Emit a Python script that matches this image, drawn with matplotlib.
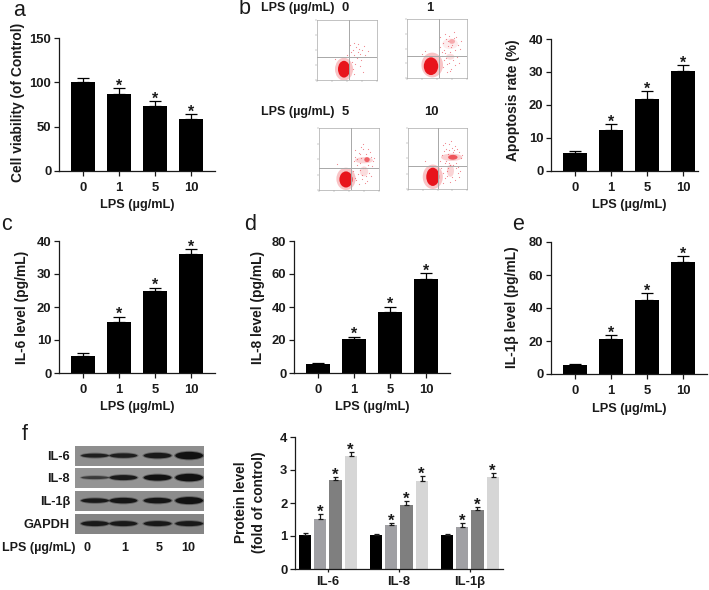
import matplotlib
matplotlib.use('Agg')
import matplotlib.pyplot as plt
from matplotlib.patches import Ellipse

W, H = 709, 590
plt.rcParams['font.family'] = ['Liberation Sans', 'DejaVu Sans']
plt.rcParams['font.weight'] = 'bold'
plt.rcParams['axes.unicode_minus'] = False

doses = ['0', '1', '5', '10']

viability = [101, 87, 73.7, 58.6]
viability_err = [4.4, 6.3, 5.3, 5.4]
apoptosis = [5.3, 12.25, 21.9, 30.3]
apoptosis_err = [0.8, 1.85, 2.3, 1.8]
il6 = [5.2, 15.5, 24.7, 36]
il6_err = [0.9, 1.6, 1.2, 1.6]
il8 = [5.3, 20.6, 37.2, 57]
il8_err = [1.0, 1.4, 3.0, 3.6]
il1b = [5.3, 21.3, 45, 68]
il1b_err = [0.8, 2.4, 3.8, 3.5]

protein_groups = ['IL-6', 'IL-8', 'IL-1β']
protein_0 = [1.03, 1.02, 1.03]
protein_1 = [1.52, 1.33, 1.28]
protein_5 = [2.71, 1.95, 1.80]
protein_10 = [3.43, 2.68, 2.80]
protein_0_err = [0.06, 0.05, 0.03]
protein_1_err = [0.15, 0.06, 0.11]
protein_5_err = [0.08, 0.10, 0.08]
protein_10_err = [0.11, 0.13, 0.10]
protein_stars = [False, True, True, True]
protein_colors = ['#000000', '#a0a0a4', '#7f7f7f', '#d6d6d6']

# western blot: band thickness (px) per lane, band darkness
blot_rows = ['IL-6', 'IL-8', 'IL-1β', 'GAPDH']
blot_thick = [[4, 4.5, 5.5, 7.5], [3, 5, 6, 7.5], [4.5, 5.5, 5.5, 7], [5, 5, 5, 5]]
blot_alpha = [[0.85, 0.85, 0.9, 1], [0.6, 0.9, 1, 1], [0.9, 0.95, 0.95, 1], [0.9, 0.9, 0.9, 0.9]]
blot_bg = ['#8e8e8e', '#949494', '#8c8c8c', '#858585']
blot_lanes = [0.155, 0.375, 0.64, 0.885]

# flow cytometry: blobs as (x, y, width, height, alpha) in plot fractions
flow_labels = ['0', '1', '5', '10']
flow_blobs = [
    [(0.45, 0.18, 0.20, 0.28, 1), (0.45, 0.18, 0.30, 0.38, 0.25)],
    [(0.40, 0.20, 0.24, 0.30, 1), (0.42, 0.22, 0.36, 0.42, 0.25), (0.72, 0.36, 0.14, 0.10, 0.15),
     (0.72, 0.58, 0.26, 0.18, 0.08), (0.75, 0.62, 0.10, 0.08, 0.3)],
    [(0.45, 0.17, 0.22, 0.26, 1), (0.45, 0.18, 0.32, 0.36, 0.25), (0.75, 0.30, 0.14, 0.16, 0.15),
     (0.75, 0.48, 0.30, 0.10, 0.18), (0.80, 0.49, 0.09, 0.08, 0.6)],
    [(0.42, 0.20, 0.22, 0.30, 1), (0.42, 0.20, 0.34, 0.40, 0.25), (0.72, 0.30, 0.12, 0.20, 0.18),
     (0.74, 0.52, 0.36, 0.12, 0.2), (0.76, 0.52, 0.16, 0.08, 0.65)],
]
# scattered events, read by eye
flow_dots_x = [
    [0.50, 0.56, 0.60, 0.62, 0.65, 0.68, 0.70, 0.72, 0.75, 0.78, 0.58, 0.63, 0.67, 0.74, 0.80, 0.55, 0.61, 0.69, 0.85, 0.60, 0.72, 0.30, 0.62, 0.77],
    [0.55, 0.60, 0.62, 0.65, 0.68, 0.70, 0.72, 0.78, 0.80, 0.82, 0.85, 0.62, 0.66, 0.74, 0.88, 0.58, 0.64, 0.70, 0.76, 0.84, 0.67, 0.60, 0.73, 0.80, 0.90, 0.55, 0.63, 0.69, 0.78, 0.30, 0.25, 0.86, 0.71, 0.65, 0.58, 0.75],
    [0.58, 0.60, 0.63, 0.66, 0.68, 0.70, 0.72, 0.74, 0.78, 0.82, 0.86, 0.90, 0.62, 0.65, 0.68, 0.76, 0.84, 0.88, 0.60, 0.70, 0.73, 0.78, 0.85, 0.92, 0.64, 0.71, 0.80, 0.87, 0.57, 0.69, 0.74, 0.82, 0.30, 0.66, 0.77, 0.60],
    [0.55, 0.58, 0.62, 0.64, 0.66, 0.68, 0.70, 0.72, 0.74, 0.78, 0.82, 0.86, 0.90, 0.60, 0.63, 0.67, 0.75, 0.80, 0.85, 0.59, 0.65, 0.71, 0.77, 0.84, 0.92, 0.61, 0.69, 0.79, 0.87, 0.56, 0.73, 0.81, 0.28, 0.66, 0.76, 0.60, 0.70, 0.88, 0.63, 0.83],
]
flow_dots_y = [
    [0.42, 0.46, 0.50, 0.42, 0.55, 0.47, 0.52, 0.44, 0.50, 0.56, 0.30, 0.26, 0.36, 0.34, 0.42, 0.58, 0.62, 0.60, 0.48, 0.18, 0.24, 0.35, 0.10, 0.14],
    [0.52, 0.60, 0.48, 0.66, 0.55, 0.72, 0.44, 0.68, 0.48, 0.70, 0.56, 0.30, 0.24, 0.16, 0.50, 0.38, 0.42, 0.26, 0.30, 0.36, 0.10, 0.18, 0.52, 0.22, 0.62, 0.70, 0.74, 0.62, 0.78, 0.45, 0.40, 0.26, 0.12, 0.34, 0.44, 0.56],
    [0.46, 0.54, 0.40, 0.60, 0.32, 0.52, 0.24, 0.66, 0.58, 0.40, 0.54, 0.46, 0.16, 0.26, 0.44, 0.12, 0.28, 0.38, 0.64, 0.70, 0.36, 0.22, 0.62, 0.52, 0.50, 0.18, 0.14, 0.22, 0.30, 0.58, 0.74, 0.66, 0.42, 0.10, 0.36, 0.20],
    [0.46, 0.56, 0.42, 0.66, 0.30, 0.58, 0.74, 0.40, 0.20, 0.64, 0.42, 0.60, 0.50, 0.26, 0.18, 0.34, 0.68, 0.14, 0.36, 0.72, 0.46, 0.12, 0.40, 0.26, 0.56, 0.62, 0.42, 0.70, 0.20, 0.34, 0.78, 0.34, 0.46, 0.22, 0.60, 0.10, 0.64, 0.30, 0.76, 0.66],
]
flow_cross = [(0.53, 0.38), (0.53, 0.38), (0.53, 0.36), (0.51, 0.38)]


def px_axes(fig, left, top, right, bottom):
    return fig.add_axes([left / W, 1 - bottom / H, (right - left) / W, (bottom - top) / H])


def ftext(fig, x, y, s, **kw):
    kw.setdefault('ha', 'center')
    kw.setdefault('va', 'center')
    kw.setdefault('color', '#1a1a1a')
    fig.text(x / W, 1 - y / H, s, **kw)


def clean_axes(ax, yticks):
    for side in ['top', 'right']:
        ax.spines[side].set_visible(False)
    for side in ['left', 'bottom']:
        ax.spines[side].set_linewidth(0.9)
        ax.spines[side].set_color('#1a1a1a')
    ax.set_yticks(yticks)
    ax.tick_params(axis='both', length=3.5, width=0.9, labelsize=9.4, pad=2, color='#1a1a1a', labelcolor='#1a1a1a')
    ax.tick_params(axis='x', pad=4.5)


def star(ax, x, y, size=11.5):
    ax.annotate('*', (x, y), xytext=(0, -4), textcoords='offset points', ha='center', va='bottom',
                fontsize=size, color='#1a1a1a')


def dose_bars(fig, box, values, errs, ymax, yticks, stars=(False, True, True, True)):
    left, top, right, bottom = box
    ax = px_axes(fig, left, top, right, bottom)
    pos = list(range(len(values)))
    ax.bar(pos, values, width=0.69, color='black', yerr=[[0] * 4, errs],
           error_kw=dict(ecolor='black', elinewidth=0.9, capsize=4, capthick=0.9))
    for i in pos:
        if stars[i]:
            star(ax, i, values[i] + errs[i])
    ax.set_xlim(-24 / 36, (right - left - 24) / 36)
    ax.set_ylim(0, ymax)
    ax.set_xticks(pos)
    ax.set_xticklabels(doses)
    clean_axes(ax, yticks)
    return ax


fig = plt.figure(figsize=(W / 100, H / 100), dpi=100)

dose_bars(fig, (59, 38.3, 215, 170.7), viability, viability_err, 150, [0, 50, 100, 150])
dose_bars(fig, (551, 39, 698, 170.7), apoptosis, apoptosis_err, 40, [0, 10, 20, 30, 40])
dose_bars(fig, (59, 241, 215, 373), il6, il6_err, 40, [0, 10, 20, 30, 40])
dose_bars(fig, (294, 241, 450, 373), il8, il8_err, 80, [0, 20, 40, 60, 80])
dose_bars(fig, (551, 242, 707, 374), il1b, il1b_err, 80, [0, 20, 40, 60, 80])

# panel f bars, x axis in pixels of bar spacing
axf = px_axes(fig, 295, 437, 503, 569)
series = [protein_0, protein_1, protein_5, protein_10]
series_err = [protein_0_err, protein_1_err, protein_5_err, protein_10_err]
spacing = 15.2
group_gap = 71
for k, (vals, errs) in enumerate(zip(series, series_err)):
    xs = [10 + g * group_gap + k * spacing for g in range(3)]
    axf.bar(xs, vals, width=12.2, color=protein_colors[k], yerr=[[0] * 3, errs],
            error_kw=dict(ecolor='#1a1a1a', elinewidth=0.9, capsize=1.8, capthick=0.9))
    if protein_stars[k]:
        for x, v, e in zip(xs, vals, errs):
            star(axf, x, v + e, size=12)
axf.set_xlim(0, 208)
axf.set_ylim(0, 4)
axf.set_xticks([10 + g * group_gap + 1.5 * spacing for g in range(3)])
axf.set_xticklabels(protein_groups)
clean_axes(axf, [0, 1, 2, 3, 4])
axf.tick_params(axis='x', length=2, pad=3)

# flow cytometry dot plots
flow_boxes = [(317, 20, 377, 80), (407, 19, 467, 78), (319, 128, 379, 190), (408, 128, 467, 189)]
for box, blobs, cross, dx, dy in zip(flow_boxes, flow_blobs, flow_cross, flow_dots_x, flow_dots_y):
    ax = px_axes(fig, *box)
    ax.scatter(dx, dy, s=0.7, color='#e8505a', alpha=0.7, lw=0)
    for x, y, w, h, a in sorted(blobs, key=lambda b: b[4]):
        ax.add_patch(Ellipse((x, y), w, h, color='#e8141c', alpha=a, lw=0))
    ax.axvline(cross[0], color='#a8a8a8', lw=0.7)
    ax.axhline(cross[1], color='#a8a8a8', lw=0.7)
    ax.set_xlim(0, 1)
    ax.set_ylim(0, 1)
    ax.set_xticks([0, 0.25, 0.5, 0.75, 1])
    ax.set_yticks([0, 0.25, 0.5, 0.75, 1])
    ax.set_xticklabels([])
    ax.set_yticklabels([])
    ax.tick_params(length=1.2, width=0.3, color='#888888')
    for s in ax.spines.values():
        s.set_linewidth(0.5)
        s.set_color('#aaaaaa')

ftext(fig, 298, 8, 'LPS (µg/mL)', fontsize=9)
ftext(fig, 345, 8, flow_labels[0], fontsize=9.4)
ftext(fig, 430, 8, flow_labels[1], fontsize=9.4)
ftext(fig, 298, 112, 'LPS (µg/mL)', fontsize=9)
ftext(fig, 345, 112, flow_labels[2], fontsize=9.4)
ftext(fig, 431, 112, flow_labels[3], fontsize=9.4)

# western blot strips
blot_boxes = [(75, 446, 204, 466), (75, 468, 204, 488), (75, 491, 204, 511), (75, 514, 204, 534)]
for r, box in enumerate(blot_boxes):
    ax = px_axes(fig, *box)
    ax.set_facecolor(blot_bg[r])
    for lane, th, al in zip(blot_lanes, blot_thick[r], blot_alpha[r]):
        ax.add_patch(Ellipse((lane, 0.52), 0.235, (th + 2) / 20, color='#111111', alpha=al * 0.35, lw=0))
        ax.add_patch(Ellipse((lane, 0.52), 0.215, th / 20, color='#111111', alpha=al, lw=0))
    ax.set_xlim(0, 1)
    ax.set_ylim(0, 1)
    ax.set_xticks([])
    ax.set_yticks([])
    for s in ax.spines.values():
        s.set_visible(False)
    ftext(fig, 70, (box[1] + box[3]) / 2 + 0.5, blot_rows[r], fontsize=9.2, ha='right')

ftext(fig, 2, 548, 'LPS (µg/mL)', fontsize=9, ha='left')
for x, s in zip([87, 125, 159, 188], doses):
    ftext(fig, x, 548, s, fontsize=9)

# axis titles
x_label_spots = [(137, 205), (629, 205), (137, 407), (372, 407), (629, 409)]
for x, y in x_label_spots:
    ftext(fig, x, y, 'LPS (µg/mL)', fontsize=9.2)

y_labels = [(18, 102, 'Cell viability (of Control)'), (513, 100, 'Apoptosis rate (%)'),
            (22, 307, 'IL-6 level (pg/mL)'), (258, 307, 'IL-8 level (pg/mL)'),
            (512, 307, 'IL-1β level (pg/mL)'), (241, 502, 'Protein level'),
            (259, 502, '(fold of control)')]
for x, y, s in y_labels:
    ftext(fig, x, y, s, fontsize=9.9, rotation=90)

# panel letters
letters = [('a', 19, 10), ('b', 245, 9), ('c', 6, 225), ('d', 250, 224), ('e', 518, 224), ('f', 25, 435)]
for s, x, y in letters:
    ftext(fig, x, y, s, fontsize=15.5, fontweight='normal')

fig.savefig('out.png', dpi=100)
